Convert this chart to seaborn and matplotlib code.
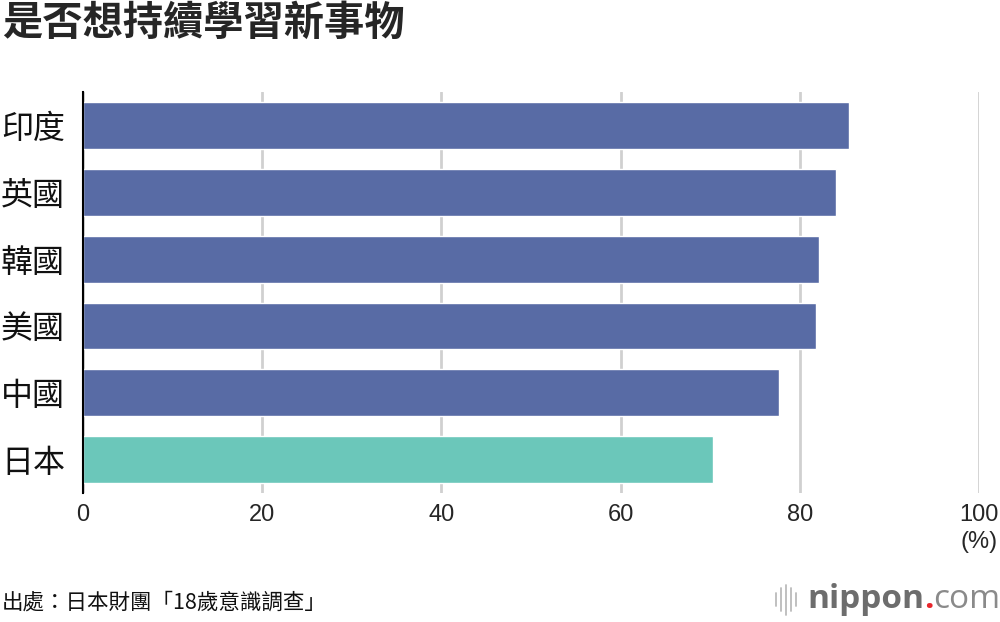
import matplotlib
matplotlib.use("Agg")
import matplotlib.pyplot as plt
import seaborn as sns
import pandas as pd
from matplotlib.lines import Line2D

countries = ["印度", "英國", "韓國", "美國", "中國", "日本"]
values = [85.5, 84.0, 82.1, 81.8, 77.7, 70.3]
bar_colors = ["#586ba5", "#586ba5", "#586ba5", "#586ba5", "#586ba5", "#6bc7ba"]
x_ticks = [0, 20, 40, 60, 80, 100]

sns.set_theme(style="white")
plt.rcParams["font.family"] = ["Noto Sans CJK TC", "DejaVu Sans"]

df = pd.DataFrame({"country": countries, "value": values})

fig = plt.figure(figsize=(10, 6.22), dpi=100)
ax = fig.add_axes([0.083, 0.2074, 0.896, 0.6446])

sns.barplot(data=df, x="value", y="country", hue="country", palette=bar_colors,
            orient="h", width=0.7, legend=False, ax=ax, saturation=1, zorder=3)

ax.set_xlim(0, 100)
ax.set_ylim(5.5, -0.5)
ax.set_xticks(x_ticks)
ax.set_xticklabels([str(t) for t in x_ticks], fontsize=17, family=["Liberation Sans", "DejaVu Sans"])
ax.tick_params(axis="x", length=0, pad=8)
ax.tick_params(axis="y", length=0, pad=13, labelsize=23)
for t in ax.get_yticklabels():
    t.set_color("#111111")
ax.set_xlabel("")
ax.set_ylabel("")
ax.grid(axis="x", color="#d0d0d0", linewidth=2, zorder=0)
for s in ["top", "right", "bottom"]:
    ax.spines[s].set_visible(False)
ax.spines["left"].set_color("black")
ax.spines["left"].set_linewidth(1.5)
ax.spines["left"].set_zorder(4)

ax.text(100, -0.095, "(%)", transform=ax.get_xaxis_transform(), ha="center", va="top",
        fontsize=17, family=["Liberation Sans", "DejaVu Sans"])

fig.text(0.002, 0.962, "是否想持續學習新事物", fontsize=29, fontweight="bold", ha="left", va="center")
fig.text(0.002, 0.032, "出處：日本財團「18歲意識調查」", fontsize=15.5, ha="left", va="center", color="#111111")

# logo
for i, h in enumerate([0.022, 0.038, 0.048, 0.038, 0.022]):
    x = 0.776 + i * 0.005
    fig.add_artist(Line2D([x, x], [0.036 - h / 2, 0.036 + h / 2], color="#bbbbbb", lw=1.3))
logo_font = ["Open Sans", "DejaVu Sans"]
renderer = fig.canvas.get_renderer()
t1 = fig.text(0.807, 0.036, "nippon", fontsize=24, fontweight="bold", color="#6d6d6d",
              ha="left", va="center", family=logo_font)
x1 = fig.transFigure.inverted().transform(t1.get_window_extent(renderer))[1][0]
t2 = fig.text(x1, 0.036, ".", fontsize=24, fontweight="bold", color="#e8262c",
              ha="left", va="center", family=logo_font)
x2 = fig.transFigure.inverted().transform(t2.get_window_extent(renderer))[1][0]
fig.text(x2, 0.036, "com", fontsize=24, color="#8a8a8a",
         ha="left", va="center", family=logo_font)

fig.savefig("out.png", dpi=100, facecolor="white")
